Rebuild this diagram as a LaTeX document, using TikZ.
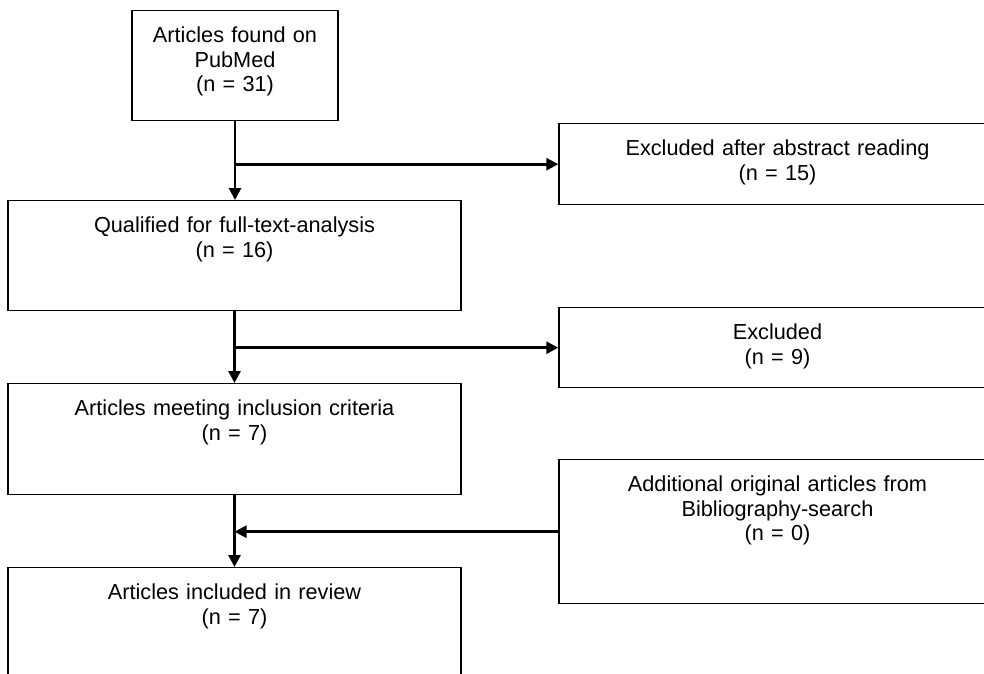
\documentclass[tikz,border=0pt]{standalone}
\usepackage{fontspec}
\setmainfont{Liberation Sans}
\usetikzlibrary{arrows.meta}
\begin{document}
\begin{tikzpicture}[x=1pt,y=-1pt,
        box/.style={draw, line width=1.4pt, anchor=north, inner sep=0pt, text height=32pt,
            align=center, font=\fontsize{21.7}{24.5}\selectfont},
        flow/.style={line width=2.7pt, -{Triangle[length=12pt,width=12pt]}}]
        \useasboundingbox (0,0) rectangle (984,673);
        % main column
        \node[box, text width=206pt, text depth=78pt] (found) at (235,10) {Articles found on\\PubMed\\(n = 31)};
        \node[box, text width=453pt, text depth=78pt] (qualified) at (234.5,200) {Qualified for full-text-analysis\\(n = 16)};
        \node[box, text width=453pt, text depth=79pt] (meeting) at (234.5,383) {Articles meeting inclusion criteria\\(n = 7)};
        \node[box, text width=453pt, text depth=78pt] (review) at (234.5,567) {Articles included in review\\(n = 7)};
        % side boxes
        \node[box, text width=437pt, text depth=49pt] (abstract) at (777.5,123) {Excluded after abstract reading\\(n = 15)};
        \node[box, text width=437pt, text depth=48pt] (excluded) at (777.5,307) {Excluded\\(n = 9)};
        \node[box, text width=437pt, text depth=112pt] (biblio) at (777.5,459) {Additional original articles from\\Bibliography-search\\(n = 0)};
        % arrows
        \draw[flow] (found.south) -- (found.south |- qualified.north);
        \draw[flow] (found.south |- abstract.west) -- (abstract.west);
        \draw[flow] (qualified.south) -- (qualified.south |- meeting.north);
        \draw[flow] (qualified.south |- excluded.west) -- (excluded.west);
        \draw[flow] (meeting.south) -- (review.north);
        \draw[flow] (biblio.west) -- (meeting.south |- biblio.west);
    \end{tikzpicture}
\end{document}
